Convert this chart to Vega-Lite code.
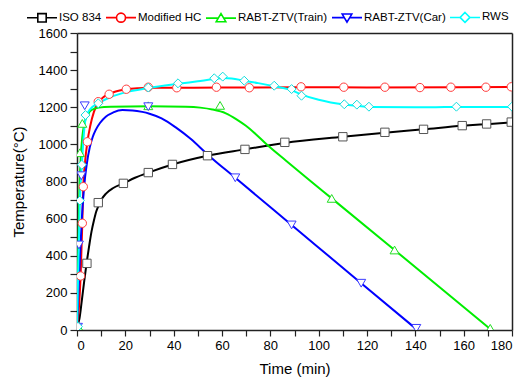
{
  "$schema": "https://vega.github.io/schema/vega-lite/v6.json",
  "autosize": "none",
  "width": 435,
  "height": 297,
  "padding": {"left": 77, "top": 33, "right": 17, "bottom": 47},
  "config": {
    "font": "Liberation Sans",
    "view": {"stroke": null},
    "axis": {"domainColor": "#222", "domainWidth": 1.5, "tickColor": "#222", "tickWidth": 1.2, "labelColor": "#000", "titleColor": "#000", "grid": false, "labelFontSize": 13, "titleFontSize": 15, "titleFontWeight": "normal"},
    "point": {"filled": true, "fill": "white", "strokeWidth": 1, "size": 70, "opacity": 1}
  },
  "datasets": {
    "curves": [
      {"series": "ISO 834", "t": 0, "T": 20}, {"series": "ISO 834", "t": 1, "T": 60}, {"series": "ISO 834", "t": 2, "T": 160}, {"series": "ISO 834", "t": 3, "T": 265}, {"series": "ISO 834", "t": 4, "T": 363}, {"series": "ISO 834", "t": 5, "T": 450}, {"series": "ISO 834", "t": 6, "T": 530}, {"series": "ISO 834", "t": 7, "T": 590}, {"series": "ISO 834", "t": 8, "T": 640}, {"series": "ISO 834", "t": 9, "T": 672}, {"series": "ISO 834", "t": 10, "T": 700}, {"series": "ISO 834", "t": 12, "T": 735}, {"series": "ISO 834", "t": 15, "T": 765}, {"series": "ISO 834", "t": 19.2, "T": 790}, {"series": "ISO 834", "t": 24, "T": 820}, {"series": "ISO 834", "t": 29.5, "T": 848}, {"series": "ISO 834", "t": 39.5, "T": 892}, {"series": "ISO 834", "t": 54, "T": 939}, {"series": "ISO 834", "t": 69.5, "T": 973}, {"series": "ISO 834", "t": 86, "T": 1008}, {"series": "ISO 834", "t": 110, "T": 1041}, {"series": "ISO 834", "t": 127.4, "T": 1063}, {"series": "ISO 834", "t": 143.4, "T": 1081}, {"series": "ISO 834", "t": 159.4, "T": 1100}, {"series": "ISO 834", "t": 169.5, "T": 1109}, {"series": "ISO 834", "t": 180, "T": 1118},
      {"series": "Modified HC", "t": 0, "T": 20}, {"series": "Modified HC", "t": 0.8, "T": 120}, {"series": "Modified HC", "t": 1.5, "T": 291}, {"series": "Modified HC", "t": 2.2, "T": 575}, {"series": "Modified HC", "t": 2.6, "T": 772}, {"series": "Modified HC", "t": 3.3, "T": 900}, {"series": "Modified HC", "t": 4.3, "T": 1014}, {"series": "Modified HC", "t": 5.5, "T": 1100}, {"series": "Modified HC", "t": 7, "T": 1175}, {"series": "Modified HC", "t": 8.8, "T": 1225}, {"series": "Modified HC", "t": 11, "T": 1255}, {"series": "Modified HC", "t": 13.3, "T": 1272}, {"series": "Modified HC", "t": 16, "T": 1285}, {"series": "Modified HC", "t": 20.4, "T": 1296}, {"series": "Modified HC", "t": 25, "T": 1302}, {"series": "Modified HC", "t": 29.5, "T": 1305}, {"series": "Modified HC", "t": 41, "T": 1305}, {"series": "Modified HC", "t": 60, "T": 1306}, {"series": "Modified HC", "t": 93, "T": 1308}, {"series": "Modified HC", "t": 120, "T": 1307}, {"series": "Modified HC", "t": 180, "T": 1309},
      {"series": "RABT-ZTV(Train)", "t": 0, "T": 20}, {"series": "RABT-ZTV(Train)", "t": 0.5, "T": 400}, {"series": "RABT-ZTV(Train)", "t": 1, "T": 750}, {"series": "RABT-ZTV(Train)", "t": 1.5, "T": 920}, {"series": "RABT-ZTV(Train)", "t": 2.2, "T": 1040}, {"series": "RABT-ZTV(Train)", "t": 3, "T": 1110}, {"series": "RABT-ZTV(Train)", "t": 4.5, "T": 1160}, {"series": "RABT-ZTV(Train)", "t": 6, "T": 1185}, {"series": "RABT-ZTV(Train)", "t": 9, "T": 1198}, {"series": "RABT-ZTV(Train)", "t": 14, "T": 1203}, {"series": "RABT-ZTV(Train)", "t": 30, "T": 1206}, {"series": "RABT-ZTV(Train)", "t": 45, "T": 1203}, {"series": "RABT-ZTV(Train)", "t": 51, "T": 1198}, {"series": "RABT-ZTV(Train)", "t": 56, "T": 1188}, {"series": "RABT-ZTV(Train)", "t": 61.6, "T": 1167}, {"series": "RABT-ZTV(Train)", "t": 66, "T": 1135}, {"series": "RABT-ZTV(Train)", "t": 69.9, "T": 1100}, {"series": "RABT-ZTV(Train)", "t": 74, "T": 1055}, {"series": "RABT-ZTV(Train)", "t": 78.2, "T": 1003}, {"series": "RABT-ZTV(Train)", "t": 86.5, "T": 912}, {"series": "RABT-ZTV(Train)", "t": 96.1, "T": 808}, {"series": "RABT-ZTV(Train)", "t": 105.4, "T": 709}, {"series": "RABT-ZTV(Train)", "t": 131.4, "T": 431}, {"series": "RABT-ZTV(Train)", "t": 171, "T": 5},
      {"series": "RABT-ZTV(Car)", "t": 0, "T": 20}, {"series": "RABT-ZTV(Car)", "t": 1, "T": 330}, {"series": "RABT-ZTV(Car)", "t": 2, "T": 600}, {"series": "RABT-ZTV(Car)", "t": 3, "T": 780}, {"series": "RABT-ZTV(Car)", "t": 4, "T": 890}, {"series": "RABT-ZTV(Car)", "t": 5.3, "T": 985}, {"series": "RABT-ZTV(Car)", "t": 6.5, "T": 1040}, {"series": "RABT-ZTV(Car)", "t": 7.7, "T": 1077}, {"series": "RABT-ZTV(Car)", "t": 9.5, "T": 1115}, {"series": "RABT-ZTV(Car)", "t": 11.9, "T": 1149}, {"series": "RABT-ZTV(Car)", "t": 15, "T": 1172}, {"series": "RABT-ZTV(Car)", "t": 18.8, "T": 1185}, {"series": "RABT-ZTV(Car)", "t": 23, "T": 1183}, {"series": "RABT-ZTV(Car)", "t": 27, "T": 1175}, {"series": "RABT-ZTV(Car)", "t": 30, "T": 1165}, {"series": "RABT-ZTV(Car)", "t": 35, "T": 1140}, {"series": "RABT-ZTV(Car)", "t": 41, "T": 1090}, {"series": "RABT-ZTV(Car)", "t": 47, "T": 1030}, {"series": "RABT-ZTV(Car)", "t": 54, "T": 946}, {"series": "RABT-ZTV(Car)", "t": 65.5, "T": 820}, {"series": "RABT-ZTV(Car)", "t": 88.8, "T": 566}, {"series": "RABT-ZTV(Car)", "t": 117.6, "T": 252}, {"series": "RABT-ZTV(Car)", "t": 140.4, "T": 5},
      {"series": "RWS", "t": 0, "T": 20}, {"series": "RWS", "t": 0.6, "T": 380}, {"series": "RWS", "t": 1.2, "T": 697}, {"series": "RWS", "t": 2, "T": 890}, {"series": "RWS", "t": 3, "T": 1080}, {"series": "RWS", "t": 3.8, "T": 1150}, {"series": "RWS", "t": 5.5, "T": 1190}, {"series": "RWS", "t": 8.8, "T": 1221}, {"series": "RWS", "t": 14, "T": 1255}, {"series": "RWS", "t": 20, "T": 1280}, {"series": "RWS", "t": 29.5, "T": 1303}, {"series": "RWS", "t": 41.8, "T": 1326}, {"series": "RWS", "t": 50, "T": 1340}, {"series": "RWS", "t": 56.8, "T": 1352}, {"series": "RWS", "t": 60.3, "T": 1357}, {"series": "RWS", "t": 64, "T": 1355}, {"series": "RWS", "t": 69.2, "T": 1343}, {"series": "RWS", "t": 75, "T": 1330}, {"series": "RWS", "t": 81.6, "T": 1313}, {"series": "RWS", "t": 88.8, "T": 1292}, {"series": "RWS", "t": 93, "T": 1268}, {"series": "RWS", "t": 100, "T": 1240}, {"series": "RWS", "t": 105, "T": 1226}, {"series": "RWS", "t": 110.6, "T": 1215}, {"series": "RWS", "t": 116, "T": 1208}, {"series": "RWS", "t": 121, "T": 1202}, {"series": "RWS", "t": 140, "T": 1200}, {"series": "RWS", "t": 157, "T": 1201}, {"series": "RWS", "t": 180, "T": 1201}
    ],
    "markers": [
      {"series": "ISO 834", "t": 4.1, "T": 359}, {"series": "ISO 834", "t": 8.8, "T": 686}, {"series": "ISO 834", "t": 19.2, "T": 790}, {"series": "ISO 834", "t": 29.5, "T": 848}, {"series": "ISO 834", "t": 39.5, "T": 892}, {"series": "ISO 834", "t": 54, "T": 939}, {"series": "ISO 834", "t": 69.5, "T": 973}, {"series": "ISO 834", "t": 86, "T": 1011}, {"series": "ISO 834", "t": 110, "T": 1041}, {"series": "ISO 834", "t": 127.4, "T": 1065}, {"series": "ISO 834", "t": 143.4, "T": 1081}, {"series": "ISO 834", "t": 159.4, "T": 1101}, {"series": "ISO 834", "t": 169.5, "T": 1110}, {"series": "ISO 834", "t": 179.7, "T": 1120},
      {"series": "Modified HC", "t": 1.5, "T": 291}, {"series": "Modified HC", "t": 2.2, "T": 575}, {"series": "Modified HC", "t": 2.6, "T": 772}, {"series": "Modified HC", "t": 4.3, "T": 1014}, {"series": "Modified HC", "t": 8.8, "T": 1230}, {"series": "Modified HC", "t": 13.3, "T": 1270}, {"series": "Modified HC", "t": 20.4, "T": 1297}, {"series": "Modified HC", "t": 29.5, "T": 1308}, {"series": "Modified HC", "t": 41.3, "T": 1305}, {"series": "Modified HC", "t": 57.7, "T": 1308}, {"series": "Modified HC", "t": 71.3, "T": 1305}, {"series": "Modified HC", "t": 92.7, "T": 1310}, {"series": "Modified HC", "t": 110.4, "T": 1308}, {"series": "Modified HC", "t": 127.4, "T": 1308}, {"series": "Modified HC", "t": 141.9, "T": 1306}, {"series": "Modified HC", "t": 154.7, "T": 1308}, {"series": "Modified HC", "t": 169.2, "T": 1308}, {"series": "Modified HC", "t": 179.7, "T": 1310},
      {"series": "RABT-ZTV(Train)", "t": 0.4, "T": 20}, {"series": "RABT-ZTV(Train)", "t": 1.2, "T": 955}, {"series": "RABT-ZTV(Train)", "t": 2.2, "T": 1113}, {"series": "RABT-ZTV(Train)", "t": 29.5, "T": 1208}, {"series": "RABT-ZTV(Train)", "t": 59.2, "T": 1210}, {"series": "RABT-ZTV(Train)", "t": 105.4, "T": 709}, {"series": "RABT-ZTV(Train)", "t": 131.4, "T": 431}, {"series": "RABT-ZTV(Train)", "t": 171, "T": 9},
      {"series": "RABT-ZTV(Car)", "t": 0.4, "T": 15}, {"series": "RABT-ZTV(Car)", "t": 0.8, "T": 458}, {"series": "RABT-ZTV(Car)", "t": 1.8, "T": 831}, {"series": "RABT-ZTV(Car)", "t": 3.2, "T": 1208}, {"series": "RABT-ZTV(Car)", "t": 29.5, "T": 1203}, {"series": "RABT-ZTV(Car)", "t": 65.5, "T": 820}, {"series": "RABT-ZTV(Car)", "t": 88.8, "T": 566}, {"series": "RABT-ZTV(Car)", "t": 117.6, "T": 252}, {"series": "RABT-ZTV(Car)", "t": 140.4, "T": 9},
      {"series": "RWS", "t": 0.4, "T": 18}, {"series": "RWS", "t": 1.2, "T": 697}, {"series": "RWS", "t": 2, "T": 890}, {"series": "RWS", "t": 3.5, "T": 1158}, {"series": "RWS", "t": 8.8, "T": 1221}, {"series": "RWS", "t": 29.5, "T": 1306}, {"series": "RWS", "t": 41.8, "T": 1329}, {"series": "RWS", "t": 56.8, "T": 1356}, {"series": "RWS", "t": 60.3, "T": 1365}, {"series": "RWS", "t": 69.2, "T": 1343}, {"series": "RWS", "t": 81.6, "T": 1316}, {"series": "RWS", "t": 88.8, "T": 1298}, {"series": "RWS", "t": 92.9, "T": 1262}, {"series": "RWS", "t": 110.6, "T": 1216}, {"series": "RWS", "t": 115.8, "T": 1214}, {"series": "RWS", "t": 120.8, "T": 1203}, {"series": "RWS", "t": 157, "T": 1203}, {"series": "RWS", "t": 180, "T": 1203}
    ]
  },
  "layer": [
    {
      "data": {"name": "curves"},
      "mark": {"type": "line", "interpolate": "monotone", "strokeWidth": 2, "clip": true},
      "encoding": {
        "x": {"field": "t", "type": "quantitative", "scale": {"domain": [0, 180], "nice": false},
          "axis": {"orient": "bottom", "title": "Time (min)", "values": [0,10,20,30,40,50,60,70,80,90,100,110,120,130,140,150,160,170,180], "format": "d",
            "labelExpr": "datum.value % 20 === 0 ? datum.label : ''", "tickSize": 6, "labelPadding": 3, "titlePadding": 9,
            "encode": {"ticks": {"update": {"y2": {"signal": "datum.value % 20 === 0 ? 6 : 4"}}}}}},
        "y": {"field": "T", "type": "quantitative", "scale": {"domain": [0, 1600], "nice": false},
          "axis": {"orient": "left", "title": "Temperature(°C)", "values": [0,100,200,300,400,500,600,700,800,900,1000,1100,1200,1300,1400,1500,1600], "format": "d",
            "labelExpr": "datum.value % 200 === 0 ? datum.label : ''", "tickSize": 7, "labelPadding": 3, "titlePadding": 12,
            "encode": {"ticks": {"update": {"x2": {"signal": "datum.value % 200 === 0 ? -7 : -4"}}}}}},
        "color": {"field": "series", "type": "nominal",
          "scale": {"domain": ["ISO 834", "Modified HC", "RABT-ZTV(Train)", "RABT-ZTV(Car)", "RWS"], "range": ["#000000", "#ff0000", "#00ee00", "#0000ff", "#00ffff"]},
          "legend": {"orient": "none", "direction": "horizontal", "legendX": -51, "legendY": -32, "title": null, "padding": 0,
            "symbolSize": 900, "labelOffset": 1, "columnPadding": 0, "labelFontSize": 11.5, "labelColor": "#000", "labelFont": "Liberation Sans",
            "encode": {"symbols": {"update": {
              "shape": {"signal": "datum.value === 'ISO 834' ? 'M-1,0H-0.28M0.28,0H1M-0.28,-0.28H0.28V0.28H-0.28Z' : datum.value === 'Modified HC' ? 'M-1,0H-0.3M0.3,0H1M-0.3,0A0.3,0.3,0,1,0,0.3,0A0.3,0.3,0,1,0,-0.3,0Z' : datum.value === 'RABT-ZTV(Train)' ? 'M-1,0H-0.2M0.2,0H1M0,-0.3L0.32,0.24H-0.32Z' : datum.value === 'RABT-ZTV(Car)' ? 'M-1,0H-0.2M0.2,0H1M0,0.3L0.32,-0.24H-0.32Z' : 'M-1,0H-0.33M0.33,0H1M0,-0.33L0.33,0L0,0.33L-0.33,0Z'"},
              "stroke": {"scale": "color", "field": "value"},
              "fill": {"value": "white"},
              "fillOpacity": {"value": 1},
              "strokeWidth": {"value": 1.6},
              "opacity": {"value": 1}
            }}}}}
      }
    },
    {
      "data": {"name": "markers"},
      "transform": [{"filter": "datum.series === 'ISO 834'"}],
      "mark": {"type": "point", "shape": "square", "stroke": "#555555", "clip": true},
      "encoding": {
        "x": {"field": "t", "type": "quantitative",
          "axis": {"orient": "top", "title": null, "labels": false, "values": [0,10,20,30,40,50,60,70,80,90,100,110,120,130,140,150,160,170,180], "tickSize": 0,
            "encode": {"ticks": {"update": {"y2": {"signal": "datum.value % 20 === 0 ? 5 : 3"}}}}}},
        "y": {"field": "T", "type": "quantitative",
          "axis": {"orient": "right", "title": null, "labels": false, "values": [0,100,200,300,400,500,600,700,800,900,1000,1100,1200,1300,1400,1500,1600], "tickSize": 0,
            "encode": {"ticks": {"update": {"x2": {"signal": "datum.value % 200 === 0 ? -5 : -3"}}}}}}
      }
    },
    {
      "data": {"name": "markers"},
      "transform": [{"filter": "datum.series === 'Modified HC'"}],
      "mark": {"type": "point", "shape": "circle", "stroke": "#ff3b3b", "clip": true},
      "encoding": {
        "x": {"field": "t", "type": "quantitative", "axis": null},
        "y": {"field": "T", "type": "quantitative", "axis": null}
      }
    },
    {
      "data": {"name": "markers"},
      "transform": [{"filter": "datum.series === 'RABT-ZTV(Train)'"}],
      "mark": {"type": "point", "shape": "triangle-up", "stroke": "#22dd22", "size": 80, "clip": true},
      "encoding": {
        "x": {"field": "t", "type": "quantitative", "axis": null},
        "y": {"field": "T", "type": "quantitative", "axis": null}
      }
    },
    {
      "data": {"name": "markers"},
      "transform": [{"filter": "datum.series === 'RABT-ZTV(Car)'"}],
      "mark": {"type": "point", "shape": "triangle-down", "stroke": "#3b3bff", "size": 80, "clip": true},
      "encoding": {
        "x": {"field": "t", "type": "quantitative", "axis": null},
        "y": {"field": "T", "type": "quantitative", "axis": null}
      }
    },
    {
      "data": {"name": "markers"},
      "transform": [{"filter": "datum.series === 'RWS'"}],
      "mark": {"type": "point", "shape": "diamond", "stroke": "#11dddd", "size": 80, "clip": true},
      "encoding": {
        "x": {"field": "t", "type": "quantitative", "axis": null},
        "y": {"field": "T", "type": "quantitative", "axis": null}
      }
    }
  ]
}
